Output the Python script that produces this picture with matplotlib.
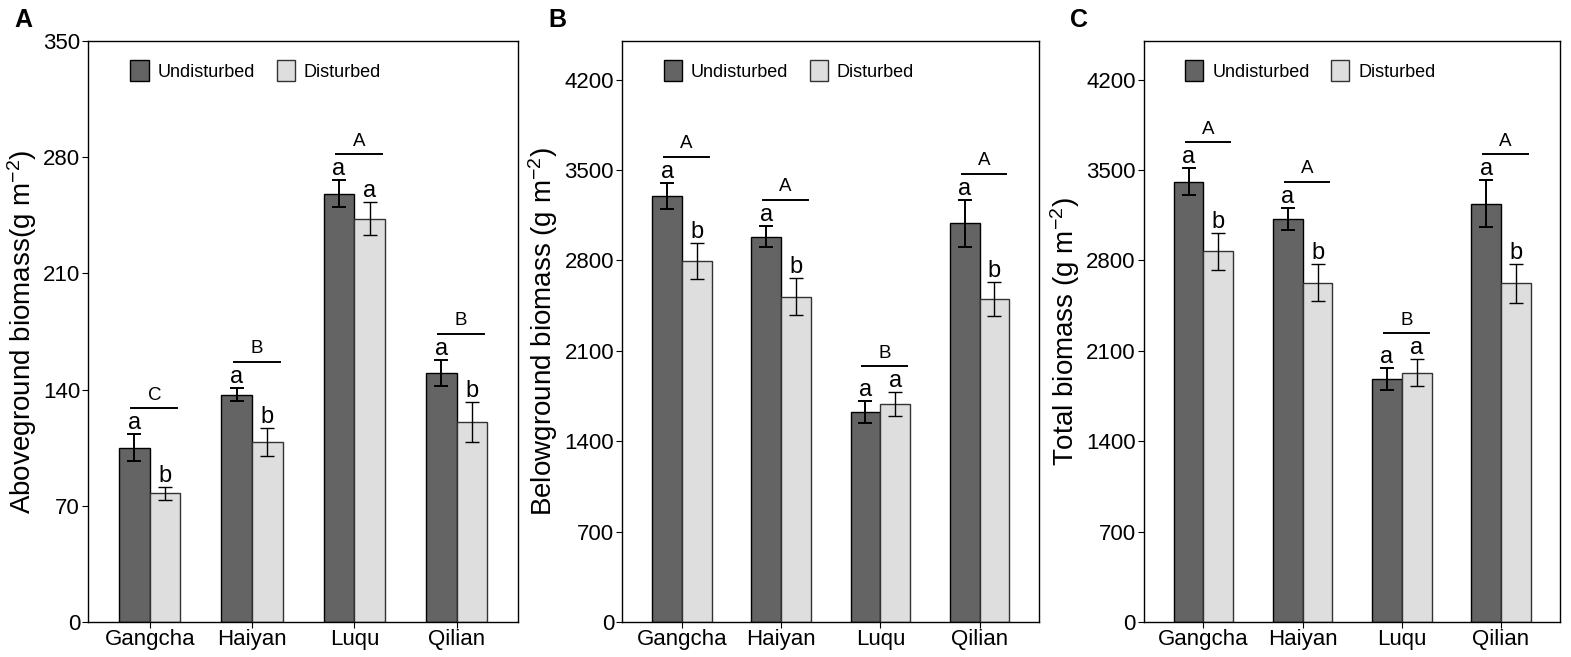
import matplotlib
matplotlib.use("Agg")
import matplotlib.pyplot as plt
import numpy as np

plt.rcParams['font.family'] = ['Liberation Sans', 'DejaVu Sans']
plt.rcParams['mathtext.default'] = 'regular'

sites = ["Gangcha", "Haiyan", "Luqu", "Qilian"]

# panel A - aboveground biomass
above_u = [105, 137, 258, 150]
above_u_err = [8, 4, 8, 8]
above_d = [77.5, 108.5, 243, 120.5]
above_d_err = [4, 8.5, 10, 12]
above_pair = [["a", "b"], ["a", "b"], ["a", "a"], ["a", "b"]]
above_group = ["C", "B", "A", "B"]

# panel B - belowground biomass
below_u = [3302, 2985, 1627, 3088]
below_u_err = [100, 80, 85, 180]
below_d = [2794, 2521, 1688, 2502]
below_d_err = [140, 140, 90, 135]
below_pair = [["a", "b"], ["a", "b"], ["a", "a"], ["a", "b"]]
below_group = ["A", "A", "B", "A"]

# panel C - total biomass
total_u = [3409, 3124, 1883, 3241]
total_u_err = [105, 85, 85, 180]
total_d = [2871, 2628, 1931, 2622]
total_d_err = [145, 143, 103, 150]
total_pair = [["a", "b"], ["a", "b"], ["a", "a"], ["a", "b"]]
total_group = ["A", "A", "B", "A"]

dark = "#646464"
light = "#dedede"
w = 0.3

fig = plt.figure(figsize=(15.71, 6.57), dpi=100)


def panel(rect, u, ue, d, de, pair, group, ymax, yticks, ylabel, tag):
    ax = fig.add_axes(rect)
    x = np.arange(1, len(sites) + 1)
    ax.bar(x - w / 2, u, w, color=dark, edgecolor="black", linewidth=1.0, label="Undisturbed", zorder=2)
    ax.bar(x + w / 2, d, w, color=light, edgecolor="#333333", linewidth=1.0, label="Disturbed", zorder=2)
    ax.errorbar(x - w / 2, u, yerr=ue, fmt="none", ecolor="black", elinewidth=1.4, capsize=5, capthick=1.4, zorder=3)
    ax.errorbar(x + w / 2, d, yerr=de, fmt="none", ecolor="black", elinewidth=1.0, capsize=5, capthick=1.0, zorder=3)
    off = ymax * 0.045
    for i in range(len(sites)):
        tu = u[i] + ue[i]
        td = d[i] + de[i]
        ax.text(x[i] - w / 2, tu, pair[i][0], ha="center", va="bottom", fontsize=17)
        ax.text(x[i] + w / 2, td, pair[i][1], ha="center", va="bottom", fontsize=17)
        ly = max(tu, td) + off
        ax.plot([x[i] - 0.18, x[i] + 0.27], [ly, ly], color="black", lw=1.4)
        ax.text(x[i] + 0.045, ly + ymax * 0.008, group[i], ha="center", va="bottom", fontsize=13.5)
    ax.set_xlim(0.4, 4.6)
    ax.set_ylim(0, ymax)
    ax.set_xticks(x)
    ax.set_xticklabels(sites, fontsize=16)
    ax.set_yticks(yticks)
    ax.tick_params(axis="y", labelsize=16, length=4, pad=2)
    ax.tick_params(axis="x", length=4, pad=1)
    ax.set_ylabel(ylabel, fontsize=20, labelpad=3)
    for s in ax.spines.values():
        s.set_linewidth(1.0)
    ax.legend(loc="upper left", bbox_to_anchor=(0.06, 0.995), ncol=2, frameon=False,
              fontsize=13, handlelength=1.0, handleheight=1.4, columnspacing=1.2, handletextpad=0.5)
    fig.text(rect[0] - 0.047, 0.97, tag, fontsize=18, fontweight="bold", ha="left", va="center")
    return ax


panel([0.0563, 0.0533, 0.2734, 0.8843], above_u, above_u_err, above_d, above_d_err, above_pair, above_group,
      350, [0, 70, 140, 210, 280, 350], "Aboveground biomass(g m$^{-2}$)", "A")
panel([0.3962, 0.0533, 0.2652, 0.8843], below_u, below_u_err, below_d, below_d_err, below_pair, below_group,
      4500, [0, 700, 1400, 2100, 2800, 3500, 4200], "Belowground biomass (g m$^{-2}$)", "B")
panel([0.7282, 0.0533, 0.2651, 0.8843], total_u, total_u_err, total_d, total_d_err, total_pair, total_group,
      4500, [0, 700, 1400, 2100, 2800, 3500, 4200], "Total biomass (g m$^{-2}$)", "C")

fig.savefig("out.png", dpi=100)
